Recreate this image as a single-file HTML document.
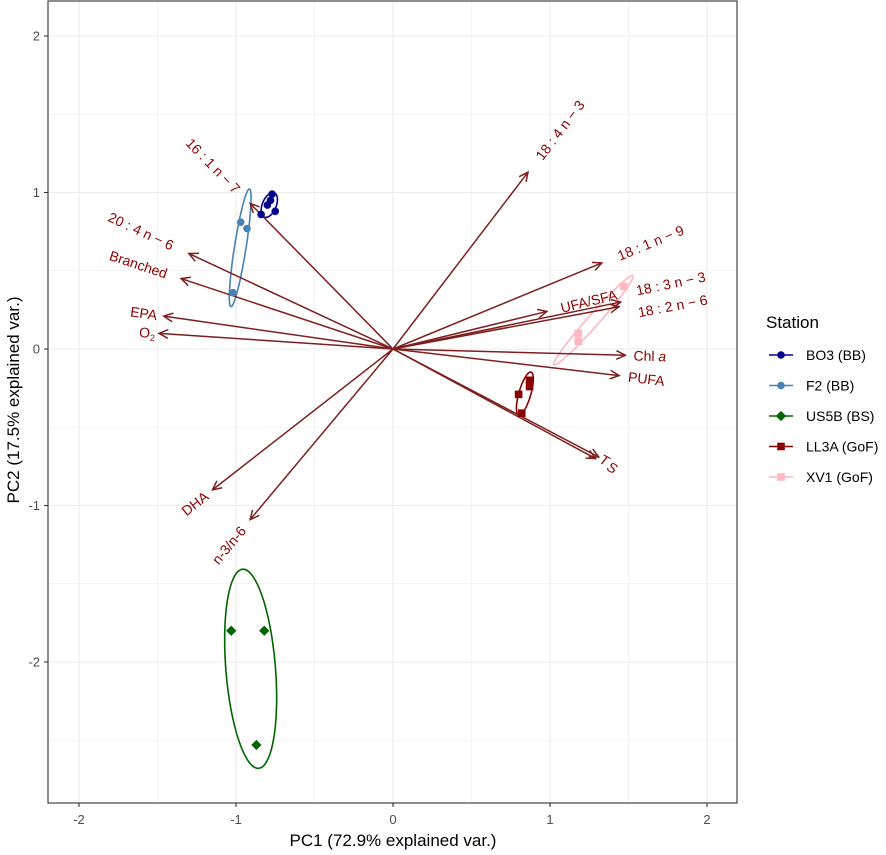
<!DOCTYPE html>
<html><head><meta charset="utf-8"><style>
body{margin:0;background:#fff}
svg text{font-family:"Liberation Sans",Arial,sans-serif}
</style></head><body>
<svg id="c" width="886" height="850" xmlns="http://www.w3.org/2000/svg">
<defs><clipPath id="pc"><rect x="48" y="1" width="689" height="802"/></clipPath></defs>
<g id="grid" clip-path="url(#pc)"></g>
<g id="ell"></g>
<g id="arr"></g>
<g id="pts"></g>
<rect x="48" y="1" width="689" height="802" fill="none" stroke="#333" stroke-width="1.1"/>
<g id="axes"></g>
<text x="393" y="846" font-size="17" text-anchor="middle" fill="#000">PC1 (72.9% explained var.)</text>
<text transform="translate(19,400) rotate(-90)" font-size="17" text-anchor="middle" fill="#000">PC2 (17.5% explained var.)</text>
<g id="legend">
<text x="766" y="328" font-size="17" fill="#000">Station</text>
</g>
</svg>
<script>
const xTicks=[-2,-1,0,1,2];
const yTicks=[-2,-1,0,1,2];
const varNames=["18 : 4 n \u2212 3","16 : 1 n \u2212 7","20 : 4 n \u2212 6","Branched","EPA","O2","DHA","n-3/n-6","18 : 1 n \u2212 9","UFA/SFA","18 : 3 n \u2212 3","18 : 2 n \u2212 6","Chl a","PUFA","T","S"];
const varX=[0.86,-0.91,-1.30,-1.35,-1.46,-1.49,-1.15,-0.91,1.33,0.98,1.45,1.44,1.48,1.44,1.31,1.29];
const varY=[1.13,0.93,0.61,0.45,0.21,0.10,-0.90,-1.09,0.55,0.24,0.30,0.27,-0.04,-0.17,-0.69,-0.70];
const groups=["BO3 (BB)","F2 (BB)","US5B (BS)","LL3A (GoF)","XV1 (GoF)"];
const groupColors=["#00008B","#4682B4","#006400","#8B0000","#FFB6C1"];
const groupShapes=["circle","circle","diamond","square","square"];
const ptGroup=[0,0,0,0,0,1,1,1,2,2,2,3,3,3,3,4,4,4];
const ptX=[-0.77,-0.80,-0.84,-0.75,-0.78,-0.97,-0.93,-1.02,-1.03,-0.82,-0.87,0.80,0.87,0.87,0.82,1.47,1.18,1.18];
const ptY=[0.99,0.92,0.86,0.88,0.95,0.81,0.77,0.36,-1.80,-1.80,-2.53,-0.29,-0.24,-0.20,-0.41,0.40,0.10,0.05];

const NS="http://www.w3.org/2000/svg";
const X=v=>393+v*157, Y=v=>349-v*156.5;
function mk(p,t,a){const e=document.createElementNS(NS,t);for(const k in a)e.setAttribute(k,a[k]);(typeof p==='string'?document.getElementById(p):p).appendChild(e);return e;}
for(let v=-2.5;v<=2.51;v+=0.5){const major=Math.abs(v-Math.round(v))<1e-6;
 let l=mk('grid','line',{x1:X(v),x2:X(v),y1:1,y2:803,stroke:'#ebebeb','stroke-width':major?1.1:0.55});
 
 let m=mk('grid','line',{x1:48,x2:737,y1:Y(v),y2:Y(v),stroke:'#ebebeb','stroke-width':major?1.1:0.55});
 }
xTicks.forEach(v=>{let t=mk('axes','line',{x1:X(v),x2:X(v),y1:803,y2:807,stroke:'#333','stroke-width':1.1});
 
 let s=mk('axes','text',{x:X(v),y:824,'font-size':13,'text-anchor':'middle',fill:'#4d4d4d'});s.textContent=v;
 });
yTicks.forEach(v=>{let t=mk('axes','line',{x1:44,x2:48,y1:Y(v),y2:Y(v),stroke:'#333','stroke-width':1.1});
 
 let s=mk('axes','text',{x:40,y:Y(v)+4.5,'font-size':13,'text-anchor':'end',fill:'#4d4d4d'});s.textContent=v;
 });
const r=Math.sqrt(2.279);
groups.forEach((g,gi)=>{const xs=[],ys=[];ptGroup.forEach((k,i)=>{if(k===gi){xs.push(ptX[i]);ys.push(ptY[i]);}});
 const n=xs.length,mx=xs.reduce((a,b)=>a+b)/n,my=ys.reduce((a,b)=>a+b)/n;
 let sxx=0,syy=0,sxy=0;for(let i=0;i<n;i++){sxx+=(xs[i]-mx)**2;syy+=(ys[i]-my)**2;sxy+=(xs[i]-mx)*(ys[i]-my);}
 sxx/=n-1;syy/=n-1;sxy/=n-1;
 const tr=(sxx+syy)/2,d=Math.sqrt(((sxx-syy)/2)**2+sxy*sxy),l1=tr+d,l2=Math.max(tr-d,0.0006);
 const th=0.5*Math.atan2(2*sxy,sxx-syy);let pts=[];
 for(let k=0;k<=100;k++){const a=k/100*2*Math.PI,u=r*Math.sqrt(l1)*Math.cos(a),w=r*Math.sqrt(l2)*Math.sin(a);
  pts.push(X(mx+u*Math.cos(th)-w*Math.sin(th)).toFixed(1)+','+Y(my+u*Math.sin(th)+w*Math.cos(th)).toFixed(1));}
 let e=mk('ell','polyline',{points:pts.join(' '),fill:'none',stroke:groupColors[gi],'stroke-width':1.6});
 });
varNames.forEach((nm,i)=>{const x2=X(varX[i]),y2=Y(varY[i]);
 let l=mk('arr','line',{x1:X(0),y1:Y(0),x2:x2,y2:y2,stroke:'#7d1f1f','stroke-width':1.5});
 
 const a=Math.atan2(y2-Y(0),x2-X(0)),h=10;
 let p=mk('arr','polyline',{points:`${x2-h*Math.cos(a-0.45)},${y2-h*Math.sin(a-0.45)} ${x2},${y2} ${x2-h*Math.cos(a+0.45)},${y2-h*Math.sin(a+0.45)}`,fill:'none',stroke:'#7d1f1f','stroke-width':1.5});
 
 const ang=-Math.atan(varY[i]/varX[i])*180/Math.PI;
 let t=mk('arr','text',{'font-size':14,fill:'#8B0000'});
 
 if(nm==='O2'){t.innerHTML='O<tspan font-size="9" dy="3">2</tspan>';}
 else if(nm==='Chl a'){t.innerHTML='Chl <tspan font-style="italic">a</tspan>';}
 else if(nm==='S'||nm==='T'){t.setAttribute('font-style','italic');t.textContent=nm;}
 else t.textContent=nm;
 const w=t.getComputedTextLength();
 let off=varX[i]>0?0.25*w:-1.25*w, dy=5;
 if(nm==='S')off+=12;
 if(nm.startsWith('18 : 3'))dy=-3;
 if(nm.startsWith('18 : 2'))dy=14;
 t.setAttribute('x',off);t.setAttribute('y',dy);
 t.setAttribute('transform',`translate(${x2},${y2}) rotate(${ang})`);});
function shape(par,s,cx,cy,col,sz){let e;
 if(s==='circle')e=mk(par,'circle',{cx:cx,cy:cy,r:sz,fill:col});
 else if(s==='square')e=mk(par,'rect',{x:cx-sz,y:cy-sz,width:2*sz,height:2*sz,fill:col});
 else e=mk(par,'polygon',{points:`${cx},${cy-sz*1.35} ${cx+sz*1.35},${cy} ${cx},${cy+sz*1.35} ${cx-sz*1.35},${cy}`,fill:col});
 return e;}
ptX.forEach((v,i)=>{const e=shape('pts',groupShapes[ptGroup[i]],X(v),Y(ptY[i]),groupColors[ptGroup[i]],3.8);
 });
groups.forEach((g,i)=>{const y=355+i*30.5;
 let l=mk('legend','line',{x1:769,x2:793,y1:y,y2:y,stroke:groupColors[i],'stroke-width':1.6});
 
 const s=shape('legend',groupShapes[i],781,y,groupColors[i],3.8);
 
 let t=mk('legend','text',{x:806,y:y+5,'font-size':14,fill:'#000'});t.textContent=g;
 });
</script>
</body></html>
